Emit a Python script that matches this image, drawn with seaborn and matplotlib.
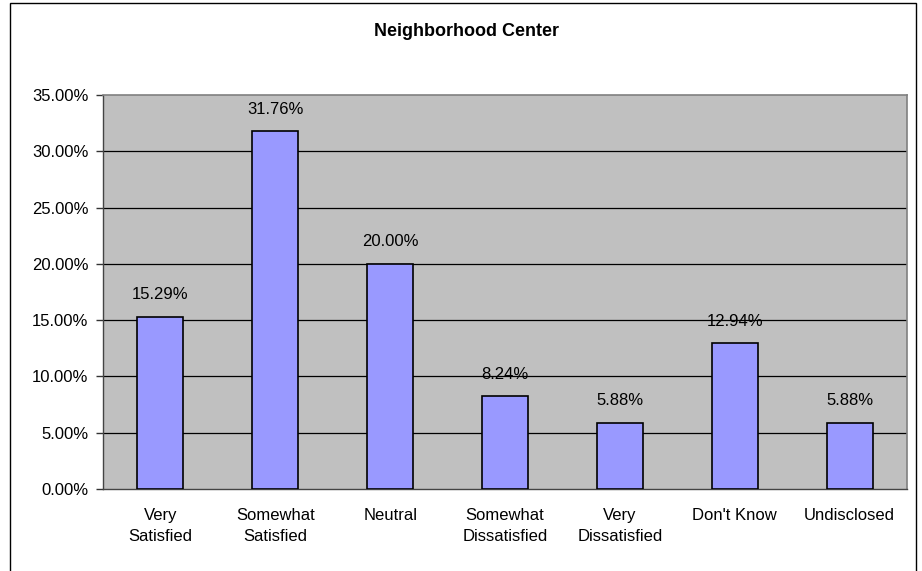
import matplotlib
matplotlib.use("Agg")
import matplotlib.pyplot as plt
import seaborn as sns
import pandas as pd
from matplotlib.patches import Rectangle
from matplotlib.ticker import FixedLocator, FuncFormatter

categories = ["Very\nSatisfied", "Somewhat\nSatisfied", "Neutral", "Somewhat\nDissatisfied",
              "Very\nDissatisfied", "Don't Know", "Undisclosed"]
values = [15.29, 31.76, 20.00, 8.24, 5.88, 12.94, 5.88]
title = "Neighborhood Center"

sns.set_style("white")
plt.rcParams['font.family'] = ['Liberation Sans', 'DejaVu Sans']
plt.rcParams['text.color'] = 'black'
plt.rcParams['xtick.color'] = 'black'
plt.rcParams['ytick.color'] = 'black'

df = pd.DataFrame({"cat": categories, "val": values})

fig = plt.figure(figsize=(9.22, 5.71), dpi=100)
ax = fig.add_axes([103/922, 1-489/571, (907-103)/922, (489-95)/571])
ax.set_facecolor("#C0C0C0")

sns.barplot(data=df, x="cat", y="val", color="#9999FF", saturation=1, width=0.4,
            edgecolor="black", linewidth=1.2, ax=ax, zorder=3)

ax.set_ylim(0, 35)
ax.set_xlim(-0.5, len(categories) - 0.5)
ax.set_yticks([0, 5, 10, 15, 20, 25, 30, 35])
ax.yaxis.set_major_formatter(FuncFormatter(lambda v, p: f"{v:.2f}%"))
for yv in [5, 10, 15, 20, 25, 30]:
    ax.axhline(yv, color="black", linewidth=0.9, zorder=1)

ax.set_xlabel("")
ax.set_ylabel("")
ax.tick_params(axis="x", which="major", length=0, pad=13.5, labelsize=12, labelcolor="black")
for lbl in ax.get_xticklabels():
    lbl.set_linespacing(1.5)
ax.xaxis.set_minor_locator(FixedLocator([i - 0.5 for i in range(len(categories) + 1)]))
ax.tick_params(axis="x", which="minor", length=5, width=1, color="#333333", direction="out")
ax.tick_params(axis="y", length=5, width=1, color="#333333", direction="out", labelsize=12,
               labelcolor="black", left=True, pad=5.5)

for s in ["left", "bottom"]:
    ax.spines[s].set_color("#444444")
    ax.spines[s].set_linewidth(1)
for s in ["top", "right"]:
    ax.spines[s].set_color("#808080")
    ax.spines[s].set_linewidth(1.2)

for i, v in enumerate(values):
    ax.text(i, v + 1.55, f"{v:.2f}%", ha="center", va="baseline", fontsize=12, color="black")

fig.text(466/922, 1-32/571, title, ha="center", va="center", fontsize=13, fontweight="bold",
         color="black")

fig.patches.append(Rectangle((10/922, -0.05), (916-10)/922, 1.05 - 3/571, transform=fig.transFigure,
                             fill=False, edgecolor="black", linewidth=1))

fig.savefig("out.png", dpi=100)
